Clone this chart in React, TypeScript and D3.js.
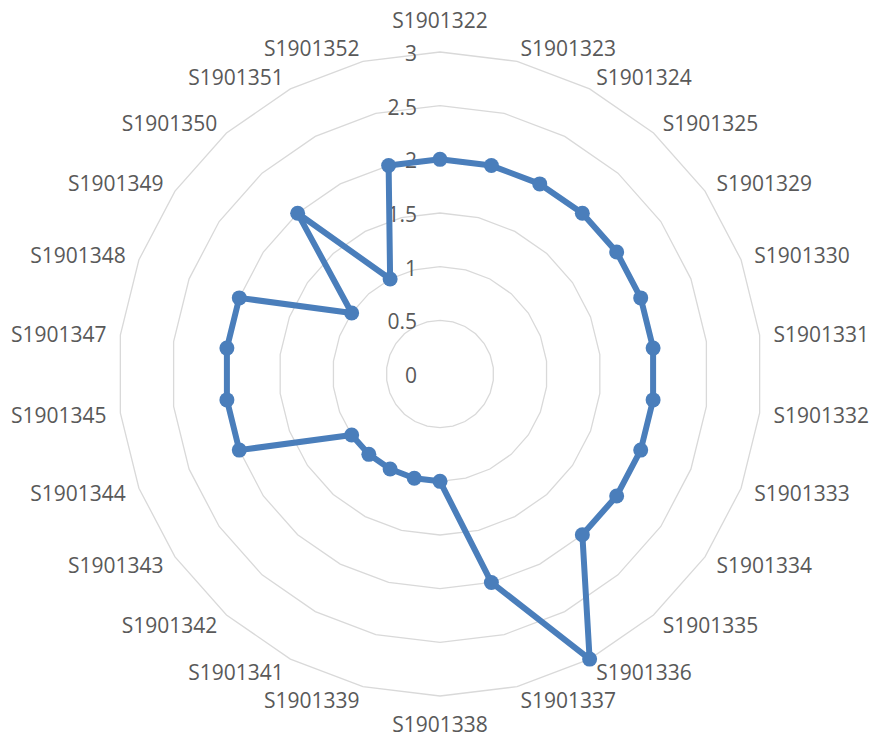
import React from "react";
import * as d3 from "d3";

const categories = [
  "S1901322", "S1901323", "S1901324", "S1901325", "S1901329", "S1901330",
  "S1901331", "S1901332", "S1901333", "S1901334", "S1901335", "S1901336",
  "S1901337", "S1901338", "S1901339", "S1901341", "S1901342", "S1901343",
  "S1901344", "S1901345", "S1901347", "S1901348", "S1901349", "S1901350",
  "S1901351", "S1901352",
];
const values = [2, 2, 2, 2, 2, 2, 2, 2, 2, 2, 2, 3, 2, 1, 1, 1, 1, 1, 2, 2, 2, 2, 1, 2, 1, 2];
const ticks = [0, 0.5, 1, 1.5, 2, 2.5, 3];
const tickLabels = ["0", "0.5", "1", "1.5", "2", "2.5", "3"];

const W = 872;
const H = 739;
const cx = 440;
const cy = 374;
const R = 322;
const FONT = "'Open Sans', 'Noto Sans', sans-serif";
const TEXT = "#595959";
const GRID = "#d9d9d9";
const BLUE = "#4a7ebb";

export default function App() {
  const n = categories.length;
  const angle = d3.scaleLinear().domain([0, n]).range([0, 2 * Math.PI]);
  const r = d3.scaleLinear().domain([0, 3]).range([0, R]);

  const ring = d3
    .lineRadial<number>()
    .angle((_, i) => angle(i))
    .radius((d) => r(d))
    .curve(d3.curveLinearClosed);

  const seriesLine = d3
    .lineRadial<number>()
    .angle((_, i) => angle(i))
    .radius((d) => r(d))
    .curve(d3.curveLinearClosed);

  const pt = (i: number, v: number) => {
    const a = angle(i);
    return [Math.sin(a) * r(v), -Math.cos(a) * r(v)];
  };

  return (
    <svg
      width={W}
      height={H}
      style={{ position: "absolute", left: 0, top: 0, background: "#fff" }}
      fontFamily={FONT}
    >
      <g transform={`translate(${cx},${cy})`}>
        {ticks.slice(1).map((t) => (
          <path
            key={"ring" + t}
            d={ring(categories.map(() => t)) || ""}
            fill="none"
            stroke={GRID}
            strokeWidth={1.3}
          />
        ))}
        {ticks.map((t, i) => (
          <text
            key={"tick" + t}
            x={-23}
            y={-r(t) + 1}
            textAnchor="end"
            dominantBaseline="central"
            fontSize={21}
            fill={TEXT}
          >
            {tickLabels[i]}
          </text>
        ))}
        <path
          d={seriesLine(values) || ""}
          fill="none"
          stroke={BLUE}
          strokeWidth={6}
          strokeLinejoin="round"
        />
        {values.map((v, i) => {
          const [x, y] = pt(i, v);
          return <circle key={"m" + i} cx={x} cy={y} r={7.5} fill={BLUE} />;
        })}
        {categories.map((c, i) => {
          const a = angle(i);
          const s = Math.sin(a);
          const co = Math.cos(a);
          const vx = s * R;
          const vy = -co * R;
          let x: number, y: number, anchor: string;
          if (Math.abs(s) < 0.01) {
            x = vx;
            y = vy - co * (co > 0 ? 32 : 28);
            anchor = "middle";
          } else {
            x = vx + s * 14;
            y = vy - co * 14;
            anchor = s > 0 ? "start" : "end";
          }
          return (
            <text
              key={c}
              x={x}
              y={y}
              textAnchor={anchor}
              dominantBaseline="central"
              fontSize={21}
              fill={TEXT}
            >
              {c}
            </text>
          );
        })}
      </g>
    </svg>
  );
}
